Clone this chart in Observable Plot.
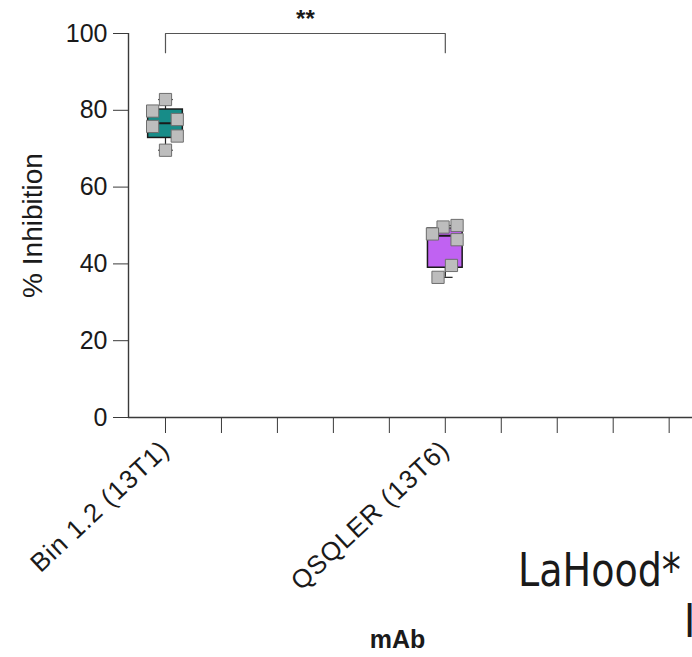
<!DOCTYPE html>
<html><head><meta charset="utf-8">
<script src="https://cdn.jsdelivr.net/npm/d3@7"></script>
<script src="https://cdn.jsdelivr.net/npm/@observablehq/plot@0.6"></script>
<style>
html,body{margin:0;padding:0;background:#fff;overflow:hidden;}
#wrap{position:relative;width:692px;height:657px;}
.over{position:absolute;font-family:"Liberation Sans Narrow","DejaVu Sans Condensed",sans-serif;color:#1a1a1a;line-height:1;white-space:nowrap;transform:scaleX(0.9);transform-origin:left top;}
</style></head><body><div id="wrap"></div>
<script>
// ---- data ----
const categories = ["Bin 1.2 (13T1)", "", "", "", "", "QSQLER (13T6)", "", "", "", ""];
const groups = ["Bin 1.2 (13T1)", "QSQLER (13T6)"];
const boxColors = ["#178c88", "#c062f2"];
const q1 = [72.8, 39.0];
const median = [76.6, 47.3];
const q3 = [80.2, 49.2];
const whiskerLow = [69.6, 36.5];
const whiskerHigh = [82.8, 50.0];
const binValues = [82.8, 79.8, 77.6, 75.8, 73.3, 69.6];
const binJitter = [0, -0.23, 0.21, -0.23, 0.21, 0];
const qsqlerValues = [50.0, 49.6, 47.8, 46.3, 39.6, 36.5];
const qsqlerJitter = [0.21, -0.04, -0.23, 0.21, 0.11, -0.13];
const yTicks = [0, 20, 40, 60, 80, 100];
const significance = "**";
const bracketTop = 100, bracketFoot = 95;
const yLabel = "% Inhibition";
const xLabel = "mAb";
const pageTexts = ["LaHood*", "I"];

// ---- build tables ----
const gIndex = groups.map(g => categories.indexOf(g));
const boxes = groups.map((g, k) => ({i: gIndex[k], q1: q1[k], med: median[k], q3: q3[k], lo: whiskerLow[k], hi: whiskerHigh[k], color: boxColors[k]}));
const points = [
  ...binValues.map((v, j) => ({x: gIndex[0] + binJitter[j], y: v})),
  ...qsqlerValues.map((v, j) => ({x: gIndex[1] + qsqlerJitter[j], y: v}))
];
const bracket = [
  {x: gIndex[0], y: bracketFoot}, {x: gIndex[0], y: bracketTop},
  {x: gIndex[1], y: bracketTop}, {x: gIndex[1], y: bracketFoot}
];
const xMin = -0.661, xMax = 9.417;
const half = 0.31, cap = 0.13;
const axisColor = "#3a3a3a";
const font = "Liberation Sans, Arial, sans-serif";

const chart = Plot.plot({
  width: 692, height: 657,
  marginLeft: 128, marginRight: 0, marginTop: 33, marginBottom: 240,
  style: {fontFamily: font, background: "#fff", overflow: "visible"},
  x: {type: "linear", domain: [xMin, xMax]},
  y: {domain: [0, 100]},
  marks: [
    Plot.axisY({ticks: yTicks, tickSize: 15, tickPadding: 6, fontSize: 25, stroke: axisColor, color: "#1a1a1a",
      label: yLabel, labelAnchor: "center", labelOffset: 106, labelArrow: "none"}),
    Plot.axisX({ticks: d3.range(categories.length), tickFormat: i => categories[i], tickRotate: -43,
      tickSize: 16, tickPadding: 12, fontSize: 26, stroke: axisColor, color: "#1a1a1a", label: null}),
    Plot.ruleY([0], {stroke: axisColor, strokeWidth: 1.4}),
    Plot.ruleX([xMin], {y1: 0, y2: 100, stroke: axisColor, strokeWidth: 1.4}),
    // bracket
    Plot.line(bracket, {x: "x", y: "y", stroke: "#555", strokeWidth: 1.2, clip: false}),
    Plot.text([significance], {x: (gIndex[0] + gIndex[1]) / 2, y: bracketTop, dy: -14, fontSize: 24, fontWeight: "bold", fill: "#1a1a1a"}),
    // whiskers
    Plot.ruleX(boxes, {x: "i", y1: "lo", y2: "hi", stroke: "#222", strokeWidth: 1.2}),
    Plot.link(boxes, {x1: d => d.i - cap, x2: d => d.i + cap, y1: "lo", y2: "lo", stroke: "#222", strokeWidth: 1.2}),
    Plot.link(boxes, {x1: d => d.i - cap, x2: d => d.i + cap, y1: "hi", y2: "hi", stroke: "#222", strokeWidth: 1.2}),
    // boxes
    Plot.rect(boxes, {x1: d => d.i - half, x2: d => d.i + half, y1: "q1", y2: "q3", fill: "color", stroke: "#1a1a1a", strokeWidth: 1.5}),
    Plot.link(boxes, {x1: d => d.i - half, x2: d => d.i + half, y1: "med", y2: "med", stroke: "#1a1a1a", strokeWidth: 2}),
    // points
    Plot.dot(points, {x: "x", y: "y", symbol: "square", r: 6.9, fill: "#bdbdbd", stroke: "#6e6e6e", strokeWidth: 1}),
    // x title
    Plot.text([xLabel], {frameAnchor: "bottom", dy: 230, dx: -13, fontSize: 25, fontWeight: "bold", fill: "#1a1a1a"})
  ]
});
chart.style.maxWidth = "none";
// slightly wider lettering, as in the (horizontally stretched) reference
chart.querySelectorAll('[aria-label="x-axis tick label"] text').forEach(t => t.setAttribute("letter-spacing", "1"));
chart.querySelectorAll('[aria-label="y-axis label"] text').forEach(t => { t.setAttribute("font-size", "28"); });
const wrap = document.getElementById("wrap");
wrap.appendChild(chart);
const t1 = document.createElement("div");
t1.className = "over"; t1.textContent = pageTexts[0];
t1.style.left = "518px"; t1.style.top = "546px"; t1.style.fontSize = "47px";
wrap.appendChild(t1);
const t2 = document.createElement("div");
t2.className = "over"; t2.textContent = pageTexts[1];
t2.style.left = "684px"; t2.style.top = "597px"; t2.style.fontSize = "47px";
wrap.appendChild(t2);
</script></body></html>
